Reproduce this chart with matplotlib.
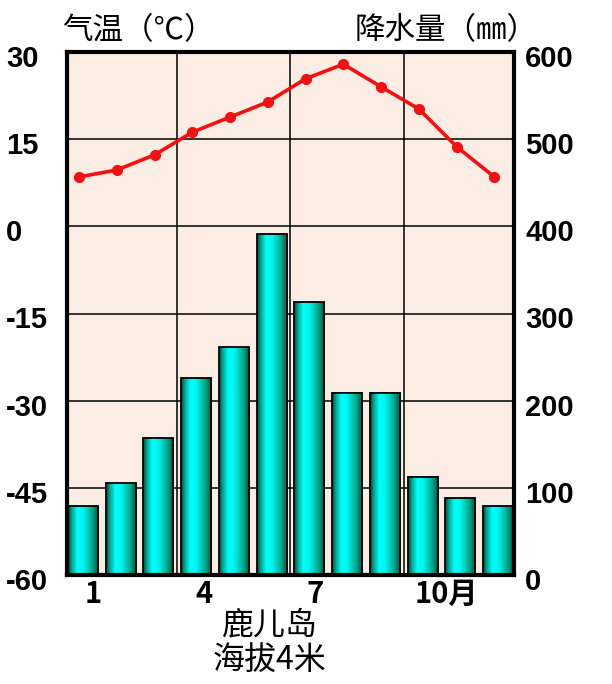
import numpy as np
import matplotlib
matplotlib.use('Agg')
import matplotlib.pyplot as plt
from matplotlib.colors import LinearSegmentedColormap
from matplotlib.transforms import ScaledTranslation


months = np.arange(1, 13)
precip = [79, 105, 157, 226, 261, 391, 313, 209, 209, 113, 88, 79]
temp = [8.5, 9.7, 12.3, 16.2, 18.8, 21.4, 25.4, 27.9, 24.0, 20.2, 13.7, 8.5]
temp_ticks = [-60, -45, -30, -15, 0, 15, 30]
precip_ticks = [0, 100, 200, 300, 400, 500, 600]
month_ticks = [1, 4, 7, 10]
month_labels = ['1', '4', '7', '10月']
temp_title = '气温（℃）'
precip_title = '降水量（㎜）'
station = '鹿儿岛'
altitude = '海拔4米'

CJK = ['Noto Sans CJK SC', 'DejaVu Sans']
NUM = ['Liberation Sans', 'DejaVu Sans']
W, H = 612, 684

BAR_CMAP = LinearSegmentedColormap.from_list(
    'bar', [(0.0, '#08463a'), (0.12, '#00a890'), (0.3, '#00ffff'),
            (0.5, '#00f4ec'), (0.8, '#00a48a'), (1.0, '#04503a')])


fig = plt.figure(figsize=(W / 100, H / 100), dpi=100)
ax = fig.add_axes([67 / W, 1 - 575 / H, 447 / W, 523 / H])
ax.set_facecolor('#fcede4')
ax2 = ax.twinx()

# Precipitation bars on the main axes (right-hand scale).
bars = ax.bar(months, precip, width=0.8, facecolor='none',
              edgecolor='black', linewidth=1.3, zorder=3)
grad = np.linspace(0, 1, 64)[None, :]
for patch in bars:
  x0, w, h = patch.get_x(), patch.get_width(), patch.get_height()
  ax.imshow(grad, extent=[x0, x0 + w, 0, h], aspect='auto', cmap=BAR_CMAP,
            interpolation='bilinear', zorder=2.5)
ax.set_xlim(0.58, 12.42)
ax.set_ylim(0, 600)
ax.set_aspect('auto')

ax.set_axisbelow(True)
ax.set_xticks([3.5, 6.5, 9.5], minor=True)
ax.xaxis.grid(True, which='minor', color='black', linewidth=1.1)
ax.yaxis.grid(True, which='major', color='black', linewidth=1.1)

shift = ScaledTranslation(0, -0.04, fig.dpi_scale_trans)
ax.yaxis.tick_right()
ax.set_yticks(precip_ticks)
ax.set_yticklabels([str(t) for t in precip_ticks], family=NUM,
                   fontweight='bold', fontsize=21)
ax.tick_params(axis='y', length=0, pad=8)
for lbl in ax.get_yticklabels():
  lbl.set_transform(lbl.get_transform() + shift)
ax.set_xticks(np.array(month_ticks) + [0.27, 0.21, 0.15, 0.62])
ax.set_xticklabels(month_labels, family=CJK, fontweight='bold', fontsize=21)
ax.tick_params(axis='x', which='both', length=0, pad=3)
for spine in ax.spines.values():
  spine.set_linewidth(3)

# Temperature line on the twin axes (left-hand scale).
ax2.plot(months - 0.1, temp, color='#f41010', linewidth=2.6, marker='o',
         markersize=7, zorder=5)
ax2.set_ylim(-60, 30)
ax2.yaxis.tick_left()
ax2.set_yticks(temp_ticks)
ax2.set_yticklabels([str(t) for t in temp_ticks], family=NUM,
                    fontweight='bold', fontsize=21, ha='left')
ax2.tick_params(axis='y', length=0, pad=44)
for lbl in ax2.get_yticklabels():
  lbl.set_transform(lbl.get_transform() + shift)
for spine in ax2.spines.values():
  spine.set_visible(False)

fig.text(62 / W, 1 - 31 / H, temp_title, ha='left', va='center',
         family=CJK, fontsize=22)
fig.text(355 / W, 1 - 31 / H, precip_title, ha='left', va='center',
         family=CJK, fontsize=22)
fig.text(270 / W, 1 - 625 / H, station, ha='center', va='center',
         family=CJK, fontsize=23)
fig.text(270 / W, 1 - 660 / H, altitude, ha='center', va='center',
         family=CJK, fontsize=23)

fig.savefig('out.png', dpi=100, facecolor='white')
